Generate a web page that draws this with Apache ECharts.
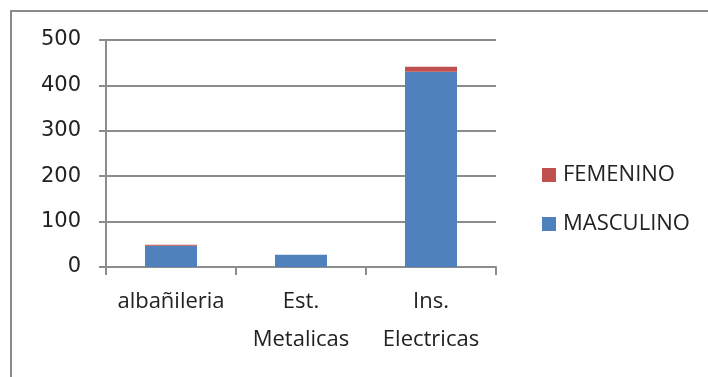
<!DOCTYPE html>
<html>
<head>
<meta charset="utf-8">
<script src="https://cdn.jsdelivr.net/npm/echarts@6/dist/echarts.min.js"></script>
<style>
  html, body { margin: 0; padding: 0; background: #fff; }
  #chart { width: 708px; height: 377px; }
</style>
</head>
<body>
<div id="chart"></div>
<script>
const categories = ['albañileria', 'Est.\nMetalicas', 'Ins.\nElectricas'];
const masculino = [47, 27, 430];
const femenino = [2, 0, 11];
const yTicks = { min: 0, max: 500, interval: 100 };

const chart = echarts.init(document.getElementById('chart'));
chart.setOption({
    animation: false,
    backgroundColor: '#fff',
    graphic: [{
        type: 'rect',
        shape: { x: 11, y: 11, width: 1200, height: 900 },
        style: { fill: 'none', stroke: '#8a8a8a', lineWidth: 2 },
        z: -1
    }],
    grid: { left: 106, top: 40, right: 212, bottom: 110, containLabel: false },
    legend: {
        orient: 'vertical',
        left: 537,
        top: 159,
        itemGap: 27,
        itemWidth: 14,
        itemHeight: 14,
        icon: 'rect',
        textStyle: { fontFamily: 'Open Sans', fontSize: 22, color: '#222', padding: [0, 0, 0, 2] },
        data: ['FEMENINO', 'MASCULINO']
    },
    xAxis: {
        type: 'category',
        data: categories,
        axisLine: { lineStyle: { color: '#8c8c8c', width: 2 } },
        axisTick: { show: true, length: 8, lineStyle: { color: '#8c8c8c', width: 2 } },
        axisLabel: {
            interval: 0,
            hideOverlap: false,
            fontFamily: 'Open Sans',
            fontSize: 22,
            color: '#222',
            lineHeight: 38,
            margin: 16
        }
    },
    yAxis: {
        type: 'value',
        min: yTicks.min,
        max: yTicks.max,
        interval: yTicks.interval,
        axisLine: { show: true, lineStyle: { color: '#8c8c8c', width: 2 } },
        axisTick: { show: true, length: 7, lineStyle: { color: '#8c8c8c', width: 2 } },
        splitLine: { lineStyle: { color: '#8c8c8c', width: 2 } },
        axisLabel: {
            fontFamily: 'DejaVu Sans',
            fontSize: 21,
            color: '#222',
            margin: 25
        }
    },
    series: [{
        name: 'MASCULINO',
        type: 'bar',
        stack: 'total',
        barWidth: '40%',
        itemStyle: { color: '#4F81BD' },
        data: masculino
    }, {
        name: 'FEMENINO',
        type: 'bar',
        stack: 'total',
        barWidth: '40%',
        itemStyle: { color: '#C0504D' },
        data: femenino
    }]
});
</script>
</body>
</html>
